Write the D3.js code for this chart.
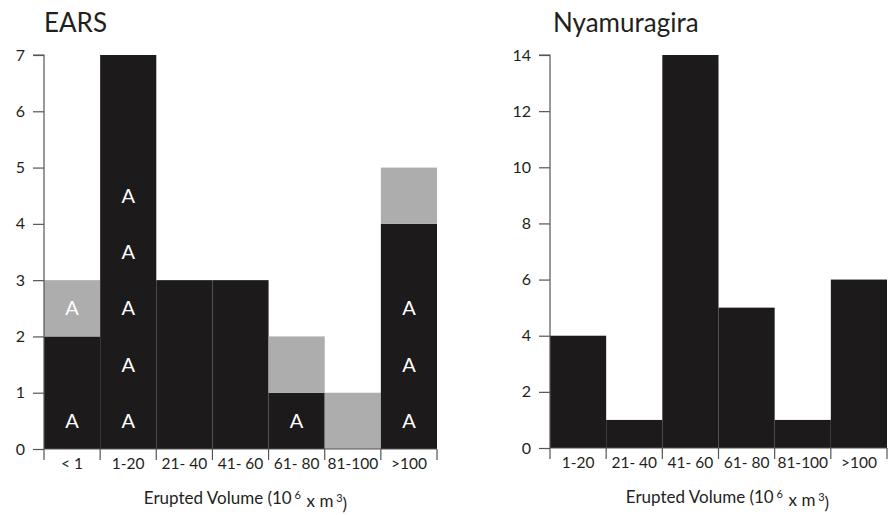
<!DOCTYPE html>
<html>
<head>
<meta charset="utf-8">
<script src="https://cdn.jsdelivr.net/npm/d3@7"></script>
<style>
  html, body { margin: 0; padding: 0; background: #fff; }
  svg { display: block; }
  text { font-family: Lato, "Open Sans", sans-serif; fill: #231f20; }
</style>
</head>
<body>
<svg id="chart" width="890" height="515"></svg>
<script>
// EARS: counts of eruptions per volume class
const earsCategories = ["< 1", "1-20", "21- 40", "41- 60", "61- 80", "81-100", ">100"];
const earsBlack = [2, 7, 3, 3, 1, 0, 4];
const earsGray  = [1, 0, 0, 0, 1, 1, 1];
const earsTicks = [0, 1, 2, 3, 4, 5, 6, 7];
// "A" markers: category and the unit row they sit in
const earsMarkers = [
  { cat: "< 1", row: 0 }, { cat: "< 1", row: 2 },
  { cat: "1-20", row: 0 }, { cat: "1-20", row: 1 }, { cat: "1-20", row: 2 },
  { cat: "1-20", row: 3 }, { cat: "1-20", row: 4 },
  { cat: "61- 80", row: 0 },
  { cat: ">100", row: 0 }, { cat: ">100", row: 1 }, { cat: ">100", row: 2 }
];

// Nyamuragira
const nyaCategories = ["1-20", "21- 40", "41- 60", "61- 80", "81-100", ">100"];
const nyaValues = [4, 1, 14, 5, 1, 6];
const nyaTicks = [0, 2, 4, 6, 8, 10, 12, 14];

const BLACK = "#1c1a1b";
const GRAY = "#adadad";
const AXIS = "#555";
const FONT = "Lato, 'Open Sans', sans-serif";

const svg = d3.select("#chart");

function panel(opts) {
  const g = svg.append("g");
  const x = d3.scaleBand().domain(opts.categories).range([opts.x0, opts.x1]).padding(0);
  const y = d3.scaleLinear().domain([0, opts.max]).range([opts.y0, opts.y1]);

  // stacked bars: black base, gray on top
  opts.categories.forEach((c, i) => {
    const b = opts.black[i];
    const gr = opts.gray ? opts.gray[i] : 0;
    if (b > 0) {
      g.append("rect")
        .attr("x", x(c)).attr("width", x.bandwidth())
        .attr("y", y(b)).attr("height", y(0) - y(b))
        .attr("fill", BLACK);
    }
    if (gr > 0) {
      g.append("rect")
        .attr("x", x(c)).attr("width", x.bandwidth())
        .attr("y", y(b + gr)).attr("height", y(b) - y(b + gr))
        .attr("fill", GRAY);
    }
  });

  if (opts.markers) {
    g.selectAll("text.mark").data(opts.markers).enter().append("text")
      .attr("class", "mark")
      .attr("x", d => x(d.cat) + x.bandwidth() / 2)
      .attr("y", d => y(d.row + 0.5))
      .attr("dy", "0.36em")
      .attr("text-anchor", "middle")
      .style("font-size", "20px")
      .style("fill", "#fff")
      .text("A");
  }

  // y axis
  const yAxis = d3.axisLeft(y).tickValues(opts.ticks).tickSize(11).tickPadding(8).tickFormat(d3.format("d"));
  const ya = g.append("g").attr("transform", `translate(${opts.x0},0)`).call(yAxis);
  ya.attr("font-family", FONT).attr("font-size", 16);
  ya.select(".domain").attr("stroke", AXIS).attr("stroke-width", 1.2).attr("d", `M-11,${opts.y1}H0V${opts.y0}`);
  ya.selectAll(".tick line").attr("stroke", AXIS).attr("stroke-width", 1.2);
  ya.selectAll(".tick text").attr("fill", "#231f20");

  // x axis: ticks on band boundaries, labels centred in bands
  const xa = g.append("g");
  xa.append("line").attr("x1", opts.x0).attr("x2", opts.x1).attr("y1", opts.y0).attr("y2", opts.y0)
    .attr("stroke", AXIS).attr("stroke-width", 1.2);
  const edges = opts.categories.map(c => x(c)).concat([x(opts.categories[opts.categories.length - 1]) + x.bandwidth()]);
  xa.selectAll("line.tk").data(edges).enter().append("line").attr("class", "tk")
    .attr("x1", d => d).attr("x2", d => d).attr("y1", opts.y0).attr("y2", opts.y0 + 11)
    .attr("stroke", AXIS).attr("stroke-width", 1.2);
  xa.selectAll("text.lb").data(opts.categories).enter().append("text").attr("class", "lb")
    .attr("x", d => x(d) + x.bandwidth() / 2).attr("y", opts.y0 + 20)
    .attr("text-anchor", "middle").style("font-size", "15.5px").text(d => d);

  // axis title with superscripts
  const t = g.append("text").attr("x", (opts.x0 + opts.x1) / 2 + opts.titleShift).attr("y", opts.y0 + 55)
    .attr("text-anchor", "middle").style("font-size", "17px").attr("xml:space", "preserve");
  t.append("tspan").text("Erupted Volume (10");
  t.append("tspan").attr("dy", "-0.5em").style("font-size", "11px").text(" 6  ");
  t.append("tspan").attr("dy", "0.5em").text("x m");
  t.append("tspan").attr("dy", "-0.5em").style("font-size", "11px").text(" 3");
  t.append("tspan").attr("dy", "0.5em").text(")");

  // panel title
  svg.append("text").attr("x", opts.titleX).attr("y", 32).style("font-size", "26px").text(opts.title);
}

panel({
  categories: earsCategories, black: earsBlack, gray: earsGray, markers: earsMarkers,
  ticks: earsTicks, max: 7, x0: 44, x1: 437, y0: 449, y1: 55,
  title: "EARS", titleX: 44, titleShift: 5
});

panel({
  categories: nyaCategories, black: nyaValues, gray: null, markers: null,
  ticks: nyaTicks, max: 14, x0: 550, x1: 887, y0: 448, y1: 55,
  title: "Nyamuragira", titleX: 553, titleShift: 9
});
</script>
</body>
</html>
